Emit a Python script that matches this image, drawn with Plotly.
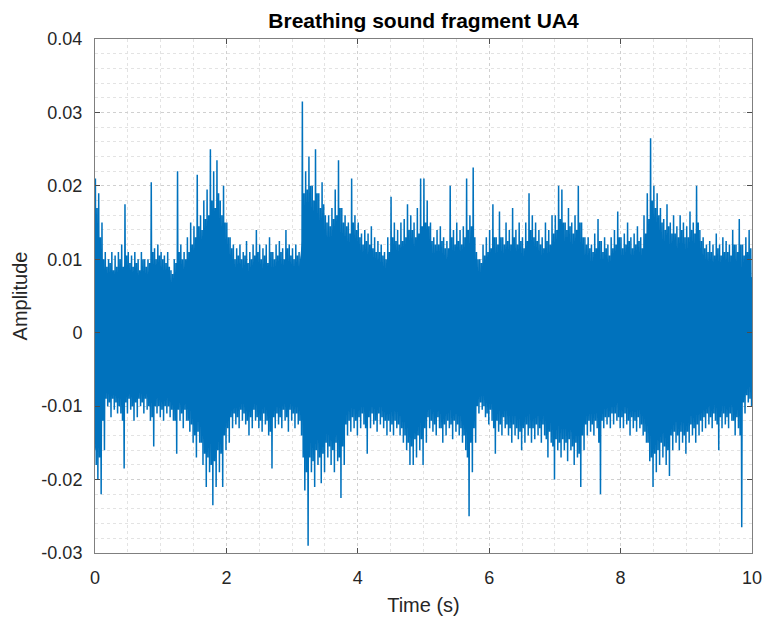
import numpy as np
import plotly.graph_objects as go

# ---------------- data (amplitudes in units of 1e-3) ----------------
# solid core envelope, sampled every 0.1 s from 0 to 10 s
core_time = [round(i * 0.1, 1) for i in range(101)]
core_upper = [14, 10, 6.5, 6.5, 6.5, 7, 6.5, 7, 7, 7.5,
              7.5, 7, 6, 7, 7.5, 8, 9.5, 11, 12, 12,
              10.5, 9, 7.5, 7, 7, 7.5, 7, 7, 7.5, 7.5,
              7, 7.5, 16, 17, 15, 13.5, 12, 12.5, 11, 10.5,
              10, 9.5, 9, 8.5, 7.5, 8, 9, 9.5, 10, 10,
              9.5, 8.5, 8.5, 8.5, 8, 9, 9.5, 9.5, 7.5, 6.5,
              7.5, 8.5, 9, 9, 8.5, 9, 9, 8.5, 8.5, 9,
              10.5, 11, 10.5, 10.5, 10, 8.5, 8, 7.5, 7.5, 8,
              8.5, 8.5, 8, 8.5, 11, 13, 12, 11, 10.5, 10,
              10.5, 10.5, 10, 8.5, 8, 7.5, 7.5, 7.5, 8, 7.5, 7.5]
core_lower = [16, 10, 6.5, 6.5, 7, 6.5, 6, 6, 6.5, 7,
              7, 7.5, 7, 7.5, 8.5, 9.5, 10.5, 12, 13, 12,
              10.5, 8.5, 8, 7.5, 7.5, 8, 8, 8.5, 8, 7.5,
              7.5, 8.5, 13, 14, 13, 12, 11, 12, 10.5, 9.5,
              9, 8.5, 8.5, 8.5, 9, 9.5, 9.5, 10.5, 11, 11,
              9.5, 8.5, 9, 9.5, 9, 9.5, 10, 10.5, 7.5, 6.5,
              7, 8.5, 9, 9.5, 9.5, 10, 9.5, 9.5, 9.5, 10.5,
              11.5, 12, 11.5, 12, 11.5, 9.5, 9.5, 10, 8.5, 8.5,
              8.5, 8.5, 9, 9.5, 11.5, 13, 12.5, 11.5, 10.5, 10.5,
              11, 11, 10, 8.5, 8.5, 8.5, 9, 8.5, 7.5, 6, 6.5]

# highest excursion per 0.05 s bin (200 bins), positive side
peak_upper = [
    21, 19, 15, 11, 10, 11, 10.5, 11, 12, 17.5, 11, 10.5, 11, 10, 11, 10, 10, 20.5, 11.5, 12,
    11, 10.5, 11, 8.5, 10, 22, 12, 11, 13, 15, 14.5, 21.5, 16, 18, 19.5, 25, 22, 23.5, 18, 20,
    15, 13, 12, 11.5, 12, 11, 12.5, 11, 12, 14, 12, 11.5, 12, 13, 11, 12, 12.5, 11.5, 14, 12,
    11.5, 12, 11, 31.5, 22, 24, 20, 25, 19, 20.5, 16, 16, 17, 19.5, 23.5, 17, 16, 15, 21, 16,
    15, 13.5, 14, 13.5, 14.5, 13, 12.5, 12, 11, 13, 18.5, 15, 14, 15, 15.5, 17.5, 16, 15, 17, 21,
    21, 18, 15, 13, 14, 14.5, 13, 12.5, 20, 14, 15, 14, 14.5, 21, 16, 22.5, 11, 10, 12, 13,
    14, 17.5, 13, 16.5, 13, 15, 14, 17, 14, 15, 13, 15, 19, 16, 15, 14, 13, 15, 14, 16,
    16, 20, 19.5, 15, 17, 15, 16, 20, 15, 13, 13, 12, 13.5, 15.5, 12.5, 13, 12, 13, 14, 16.5,
    13, 13.5, 15, 13, 13.5, 14.5, 13, 16, 19, 26.5, 20, 19, 17, 15.5, 17.5, 15, 16, 14.5, 16, 15,
    14.5, 16.5, 15, 20, 14, 13, 12, 12.5, 12, 13.5, 12, 13, 12.5, 12, 14, 12, 15.5, 12, 13, 14]

# second-highest excursion per 0.05 s bin, positive side
second_upper = [
    17, 13, 10, 9, 9.5, 8.5, 9, 10, 9, 10.5, 9.5, 9, 9.5, 8.5, 10, 9, 9.5, 11, 10, 10.5,
    10, 9.5, 9, 8, 9.5, 11, 10, 10, 11, 12, 13, 14.5, 14, 15.5, 16, 18, 17, 19, 16, 15,
    13, 11.5, 10, 10.5, 10, 10.5, 9.5, 10, 10.5, 11, 10, 10.5, 9.5, 11, 10, 10.5, 11, 10, 11.5, 10.5,
    10, 10.5, 10, 19, 19.5, 20, 18, 19, 17, 17.5, 15, 14.5, 15.5, 16, 17, 15, 14.5, 13.5, 15, 14,
    13, 12, 12.5, 12, 11.5, 11, 11, 10.5, 10, 11, 13, 12.5, 12, 12.5, 13, 14, 14, 13, 13.5, 14.5,
    15, 14.5, 12.5, 12, 12, 12.5, 11.5, 11.5, 13, 12, 12.5, 12, 13, 14, 14.5, 13, 10, 9.5, 10.5, 11,
    11.5, 13, 12, 13, 12, 12.5, 12, 13, 12, 12.5, 11.5, 12.5, 14, 13, 12.5, 12, 11.5, 12.5, 12, 13.5,
    14, 15.5, 15, 14, 14.5, 13.5, 14, 15, 13, 12, 11.5, 11, 11.5, 12.5, 11, 11.5, 10.5, 11.5, 12, 13,
    11.5, 12, 12.5, 11.5, 12, 12.5, 11.5, 13.5, 15.5, 18, 17, 16, 15, 14, 14.5, 13.5, 13.5, 13, 14, 13,
    13, 14, 13.5, 15, 12.5, 11.5, 11, 11, 10.5, 11.5, 10.5, 11, 11, 10.5, 12, 11, 12, 10.5, 11, 11.5]

# highest excursion per 0.05 s bin, negative side (magnitudes)
peak_lower = [
    20, 22, 16, 10, 11.5, 10.5, 11, 11, 18.5, 11, 10.5, 12, 11.5, 10, 11, 10.5, 12, 15.5, 11, 11.5,
    12, 11, 11.5, 12, 16.5, 12, 13, 12, 13.5, 15, 17, 15, 18, 21, 19, 23.5, 21, 19, 21, 16,
    15, 13, 12.5, 13, 12, 12.5, 14, 13, 12, 13, 13.5, 12.5, 14, 18.5, 13, 12.5, 13, 12, 13.5, 12,
    13, 12.5, 14, 21.5, 29, 19, 21, 18, 20.5, 19, 17, 18, 19, 17.5, 22.5, 18, 14, 13.5, 13, 14,
    13, 12.5, 16.5, 13, 12.5, 13.5, 12.5, 13, 14, 13.5, 14, 13, 14, 15, 16, 18, 18, 17, 16, 18,
    15, 13, 13.5, 14, 13, 15, 14, 13, 14.5, 13.5, 14, 15, 16, 25, 19, 15, 11, 10.5, 11.5, 12.5,
    12, 16.5, 13.5, 14, 13, 14, 15, 14, 14.5, 16, 15, 14, 15, 14.5, 14, 15, 14, 17, 15, 20,
    16, 17, 16, 17.5, 16, 18, 17, 21, 16, 14, 13.5, 14, 13, 22, 13, 12.5, 13, 12.5, 12, 13,
    13, 12.5, 14, 13, 13.5, 13, 14, 15, 17.5, 21, 19, 18, 17, 18, 19.5, 16, 15, 16, 15, 16.5,
    15, 14, 15, 14, 13.5, 13, 12.5, 13, 12, 16, 13, 12.5, 13, 12, 14, 13, 26.5, 11, 9.5, 10]

# second-highest excursion per 0.05 s bin, negative side (magnitudes)
second_lower = [
    18, 17, 12, 9, 9.5, 9, 9.5, 10, 12, 9.5, 9, 10, 9.5, 9, 9.5, 9, 10, 11.5, 10, 10,
    10.5, 10, 10, 10.5, 12, 10.5, 11, 10.5, 12, 12.5, 14, 13.5, 15, 16.5, 17, 18, 17.5, 16, 16.5, 14,
    13, 11.5, 11, 11.5, 10.5, 11, 12, 11.5, 10.5, 11.5, 12, 11, 12, 13.5, 11.5, 11, 11.5, 10.5, 11.5, 10.5,
    11, 11, 12, 17, 19, 17, 17.5, 16, 17, 16.5, 15, 15.5, 16, 15, 17, 15.5, 12.5, 12, 11.5, 12,
    11.5, 11, 13, 11.5, 11, 12, 11, 11.5, 12, 12, 12.5, 12, 12.5, 13, 14, 15, 15.5, 14.5, 14, 14.5,
    13, 11.5, 12, 12.5, 11.5, 13, 12.5, 12, 12.5, 12, 12.5, 13, 14, 17, 15, 13, 10, 9.5, 10, 11,
    10.5, 13, 12, 12.5, 11.5, 12.5, 13, 12.5, 13, 13.5, 13, 12.5, 13, 13, 12.5, 13, 12.5, 14.5, 13.5, 15.5,
    14.5, 15, 14.5, 15, 14.5, 15.5, 15, 16.5, 14, 12.5, 12, 12.5, 12, 15, 12, 11.5, 11.5, 11, 11, 11.5,
    11.5, 11, 12, 11.5, 12, 11.5, 12.5, 13.5, 15, 17, 16.5, 16, 15, 15.5, 16, 14, 13.5, 14, 13.5, 14,
    13.5, 12.5, 13, 12.5, 12, 11.5, 11, 11.5, 11, 12.5, 11.5, 11, 11.5, 11, 12, 11.5, 14, 9.5, 8.5, 9]

bin_width = 0.05
y_tick_vals = [-0.03, -0.02, -0.01, 0, 0.01, 0.02, 0.03, 0.04]
y_tick_text = ["-0.03", "-0.02", "-0.01", "0", "0.01", "0.02", "0.03", "0.04"]
x_tick_vals = [0, 2, 4, 6, 8, 10]
x_tick_text = ["0", "2", "4", "6", "8", "10"]

# ---------------- build traces ----------------
scale = 1e-3
blue = "#0072BD"

cx = core_time + core_time[::-1]
cy = [v * scale for v in core_upper] + [-v * scale for v in core_lower[::-1]]

zx, zy = [], []
for i in range(len(peak_upper)):
    t0 = i * bin_width
    zx += [t0 + 0.125 * bin_width, t0 + 0.375 * bin_width,
           t0 + 0.625 * bin_width, t0 + 0.875 * bin_width]
    zy += [peak_upper[i] * scale, -second_lower[i] * scale,
           second_upper[i] * scale, -peak_lower[i] * scale]

fig = go.Figure()
fig.add_trace(go.Scatter(x=cx, y=cy, mode="lines", fill="toself", fillcolor=blue,
                         line=dict(color=blue, width=1), hoverinfo="skip", showlegend=False))
fig.add_trace(go.Scatter(x=zx, y=zy, mode="lines", line=dict(color=blue, width=1.5),
                         showlegend=False))

font_family = "Liberation Sans, Arial, Helvetica, sans-serif"
axis_common = dict(
    showline=True, linecolor="#7f7f7f", linewidth=1, mirror="allticks",
    ticks="inside", ticklen=5, tickcolor="#4d4d4d",
    showgrid=True, gridcolor="#d0d0d0", griddash="dot", gridwidth=1,
    zeroline=False, automargin=False,
    tickfont=dict(size=18, color="#262626", family=font_family),
)

fig.update_layout(
    width=765, height=621,
    margin=dict(l=95, r=13, t=39, b=68),
    paper_bgcolor="white", plot_bgcolor="white",
    font=dict(family=font_family, color="#262626"),
    title=dict(text="<b>Breathing sound fragment UA4</b>", x=0.5, xref="paper",
               y=1 - 21 / 621, yref="container", yanchor="middle", xanchor="center",
               font=dict(size=21, color="#000000", family=font_family)),
    xaxis=dict(range=[0, 10], tickvals=x_tick_vals, ticktext=x_tick_text,
               title=dict(text="Time (s)", font=dict(size=20, color="#262626"), standoff=11),
               minor=dict(dtick=0.5, showgrid=True, gridcolor="#e3e3e3", griddash="dot"),
               **axis_common),
    yaxis=dict(range=[-0.03, 0.04], tickvals=y_tick_vals, ticktext=y_tick_text,
               title=dict(text="Amplitude", font=dict(size=20, color="#262626"), standoff=8),
               minor=dict(dtick=0.002, showgrid=True, gridcolor="#e3e3e3", griddash="dot"),
               **axis_common),
)
fig.update_xaxes(ticklabelstandoff=8)
fig.update_yaxes(ticklabelstandoff=8)

fig.write_html("out.html")
